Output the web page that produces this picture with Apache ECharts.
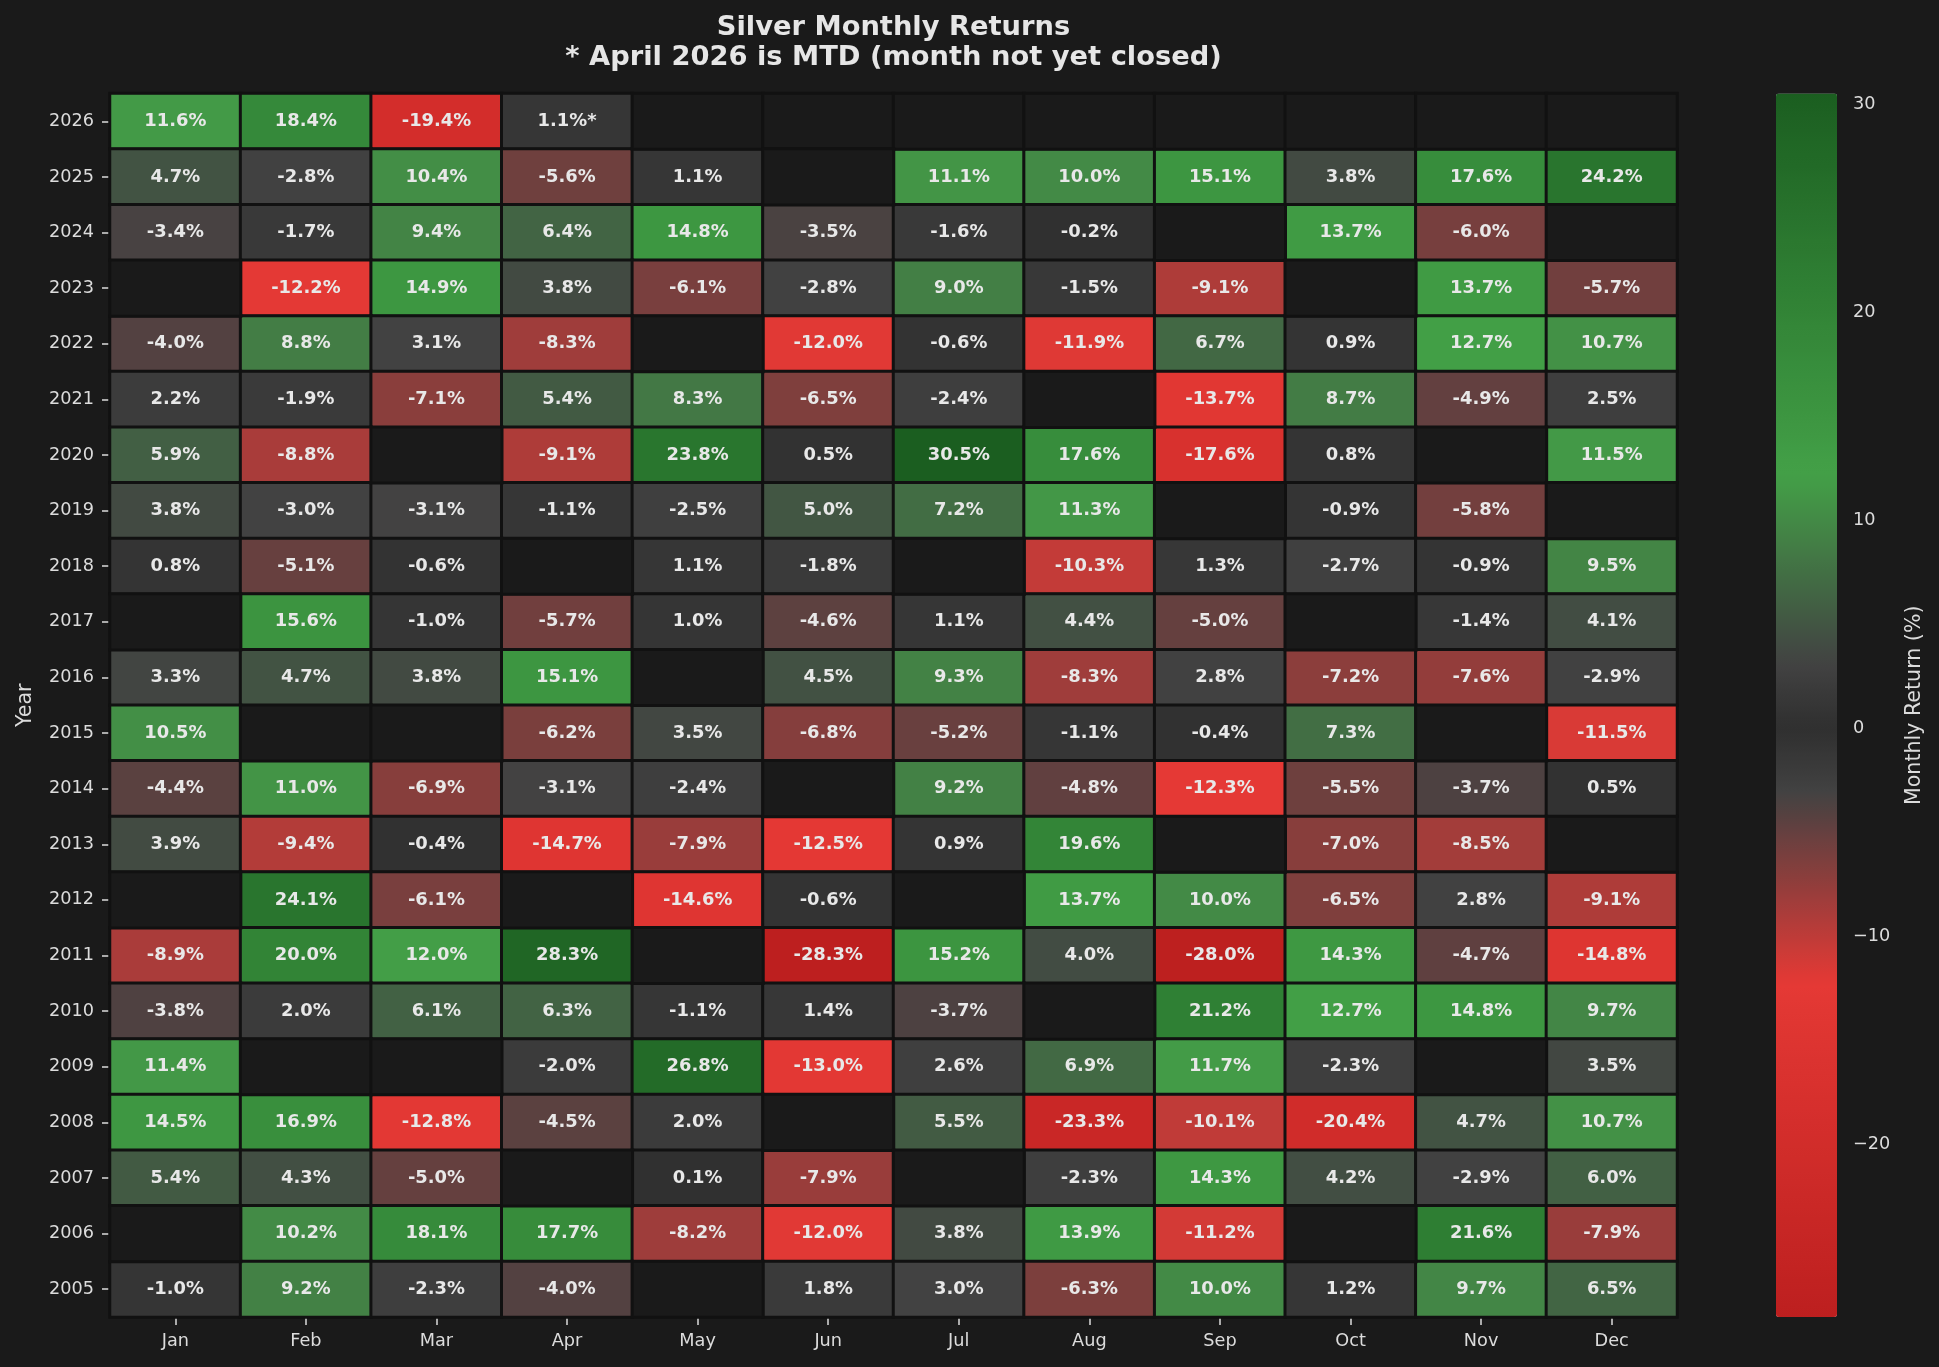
<!DOCTYPE html>
<html><head><meta charset="utf-8">
<script src="https://cdn.jsdelivr.net/npm/echarts@6/dist/echarts.min.js"></script>
<style>html,body{margin:0;padding:0;background:#1a1a1a;}#c{width:1939px;height:1367px;}</style>
</head><body><div id="c"></div>
<script>
// ---------- data ----------
const months = ['Jan','Feb','Mar','Apr','May','Jun','Jul','Aug','Sep','Oct','Nov','Dec'];
const years = ['2026','2025','2024','2023','2022','2021','2020','2019','2018','2017','2016',
               '2015','2014','2013','2012','2011','2010','2009','2008','2007','2006','2005'];
const r2026 = [11.6, 18.4, -19.4, 1.1, null, null, null, null, null, null, null, null];
const r2025 = [4.7, -2.8, 10.4, -5.6, 1.1, null, 11.1, 10.0, 15.1, 3.8, 17.6, 24.2];
const r2024 = [-3.4, -1.7, 9.4, 6.4, 14.8, -3.5, -1.6, -0.2, null, 13.7, -6.0, null];
const r2023 = [null, -12.2, 14.9, 3.8, -6.1, -2.8, 9.0, -1.5, -9.1, null, 13.7, -5.7];
const r2022 = [-4.0, 8.8, 3.1, -8.3, null, -12.0, -0.6, -11.9, 6.7, 0.9, 12.7, 10.7];
const r2021 = [2.2, -1.9, -7.1, 5.4, 8.3, -6.5, -2.4, null, -13.7, 8.7, -4.9, 2.5];
const r2020 = [5.9, -8.8, null, -9.1, 23.8, 0.5, 30.5, 17.6, -17.6, 0.8, null, 11.5];
const r2019 = [3.8, -3.0, -3.1, -1.1, -2.5, 5.0, 7.2, 11.3, null, -0.9, -5.8, null];
const r2018 = [0.8, -5.1, -0.6, null, 1.1, -1.8, null, -10.3, 1.3, -2.7, -0.9, 9.5];
const r2017 = [null, 15.6, -1.0, -5.7, 1.0, -4.6, 1.1, 4.4, -5.0, null, -1.4, 4.1];
const r2016 = [3.3, 4.7, 3.8, 15.1, null, 4.5, 9.3, -8.3, 2.8, -7.2, -7.6, -2.9];
const r2015 = [10.5, null, null, -6.2, 3.5, -6.8, -5.2, -1.1, -0.4, 7.3, null, -11.5];
const r2014 = [-4.4, 11.0, -6.9, -3.1, -2.4, null, 9.2, -4.8, -12.3, -5.5, -3.7, 0.5];
const r2013 = [3.9, -9.4, -0.4, -14.7, -7.9, -12.5, 0.9, 19.6, null, -7.0, -8.5, null];
const r2012 = [null, 24.1, -6.1, null, -14.6, -0.6, null, 13.7, 10.0, -6.5, 2.8, -9.1];
const r2011 = [-8.9, 20.0, 12.0, 28.3, null, -28.3, 15.2, 4.0, -28.0, 14.3, -4.7, -14.8];
const r2010 = [-3.8, 2.0, 6.1, 6.3, -1.1, 1.4, -3.7, null, 21.2, 12.7, 14.8, 9.7];
const r2009 = [11.4, null, null, -2.0, 26.8, -13.0, 2.6, 6.9, 11.7, -2.3, null, 3.5];
const r2008 = [14.5, 16.9, -12.8, -4.5, 2.0, null, 5.5, -23.3, -10.1, -20.4, 4.7, 10.7];
const r2007 = [5.4, 4.3, -5.0, null, 0.1, -7.9, null, -2.3, 14.3, 4.2, -2.9, 6.0];
const r2006 = [null, 10.2, 18.1, 17.7, -8.2, -12.0, 3.8, 13.9, -11.2, null, 21.6, -7.9];
const r2005 = [-1.0, 9.2, -2.3, -4.0, null, 1.8, 3.0, -6.3, 10.0, 1.2, 9.7, 6.5];
const cbTicks = [-20, -10, 0, 10, 20, 30];
const mtdYear = '2026';
const mtdMonth = 'Apr';

const rows = [r2026, r2025, r2024, r2023, r2022, r2021, r2020, r2019, r2018, r2017, r2016,
              r2015, r2014, r2013, r2012, r2011, r2010, r2009, r2008, r2007, r2006, r2005];

// ---------- build ----------
const cells = [], blanks = [];
rows.forEach((row, yi) => row.forEach((v, xi) => {
  if (v === null) blanks.push([xi, yi, 0]); else cells.push([xi, yi, v]);
}));
const vals = cells.map(c => c[2]);
const vMin = Math.min(...vals), vMax = Math.max(...vals);
const maxAbs = Math.max(Math.abs(vMin), Math.abs(vMax));

// colour map stops (fraction of max |value|)
const stops = [[-1,'#b71c1c'],[-0.4,'#e53935'],[-0.1,'#424242'],[0,'#2f2f2f'],[0.1,'#424242'],[0.4,'#43a047'],[1,'#1b5e20']];
function hex2rgb(h){return [parseInt(h.slice(1,3),16),parseInt(h.slice(3,5),16),parseInt(h.slice(5,7),16)];}
function colorAt(v){
  const f = v / maxAbs;
  for (let i = 0; i < stops.length - 1; i++) {
    const [a, ca] = stops[i], [b, cb] = stops[i+1];
    if (f >= a && f <= b) {
      const t = (f - a) / (b - a), A = hex2rgb(ca), B = hex2rgb(cb);
      return 'rgb(' + A.map((x, k) => Math.round(x + (B[k] - x) * t)).join(',') + ')';
    }
  }
  return f < 0 ? stops[0][1] : stops[stops.length-1][1];
}
const N = 240, palette = [];
for (let i = 0; i <= N; i++) palette.push(colorAt(vMin + (vMax - vMin) * i / N));

const FONT = 'DejaVu Sans';
const TXT = '#dcdcdc';
const gridL = 110, gridT = 93.5, gridW = 1567, gridH = 1223.5;

const chart = echarts.init(document.getElementById('c'), null, {renderer: 'canvas'});
chart.setOption({
  backgroundColor: '#1a1a1a',
  animation: false,
  textStyle: {fontFamily: FONT},
  title: {
    text: 'Silver Monthly Returns\n* April 2026 is MTD (month not yet closed)',
    left: gridL + gridW / 2, top: 13, padding: 0, textAlign: 'center',
    textStyle: {color: '#e6e6e6', fontSize: 27.3, fontWeight: 'bold', lineHeight: 30, fontFamily: FONT}
  },
  grid: [
    {left: gridL, top: gridT, width: gridW, height: gridH},
    {left: 1776, top: gridT, width: 61, height: gridH}
  ],
  xAxis: [
    {type: 'category', data: months, gridIndex: 0, position: 'bottom',
     axisLine: {show: false}, splitLine: {show: false},
     axisTick: {show: true, alignWithLabel: true, length: 8, lineStyle: {color: TXT, width: 1.5}},
     axisLabel: {color: TXT, fontSize: 17.7, margin: 15, fontFamily: FONT}},
    {type: 'value', gridIndex: 1, show: false}
  ],
  yAxis: [
    {type: 'category', data: years, gridIndex: 0, inverse: true,
     name: 'Year', nameLocation: 'middle', nameGap: 74,
     nameTextStyle: {color: TXT, fontSize: 20.6, fontFamily: FONT},
     axisLine: {show: false}, splitLine: {show: false},
     axisTick: {show: true, alignWithLabel: true, length: 8, lineStyle: {color: TXT, width: 1.5}},
     axisLabel: {color: TXT, fontSize: 17.7, margin: 16, fontFamily: FONT}},
    {type: 'value', gridIndex: 1, min: vMin, max: vMax, position: 'right',
     name: 'Monthly Return (%)', nameLocation: 'middle', nameGap: 67, nameRotate: 90,
     nameTextStyle: {color: TXT, fontSize: 20.6, fontFamily: FONT},
     axisLine: {show: false}, splitLine: {show: false},
     axisTick: {show: true, length: 7, customValues: cbTicks, lineStyle: {color: TXT, width: 1.5}},
     axisLabel: {color: TXT, fontSize: 17.7, margin: 16, customValues: cbTicks, fontFamily: FONT,
       formatter: v => (v < 0 ? '\u2212' + Math.abs(v) : String(v))}}
  ],
  visualMap: {
    type: 'continuous', seriesIndex: 0, min: vMin, max: vMax,
    orient: 'vertical', left: 1776, top: gridT, itemWidth: 61, itemHeight: gridH,
    padding: 0, calculable: false, realtime: false, text: null, showLabel: false,
    hoverLink: false,
    inRange: {color: palette}
  },
  series: [
    {type: 'heatmap', xAxisIndex: 0, yAxisIndex: 0, data: cells,
     itemStyle: {borderColor: '#111111', borderWidth: 3},
     emphasis: {disabled: true},
     label: {show: true, color: '#e8e8e8', fontSize: 17.9, fontWeight: 'bold', fontFamily: FONT,
       formatter: p => {
         const s = p.value[2].toFixed(1) + '%';
         return (years[p.value[1]] === mtdYear && months[p.value[0]] === mtdMonth) ? s + '*' : s;
       }}},
    {type: 'heatmap', xAxisIndex: 0, yAxisIndex: 0, data: blanks,
     itemStyle: {color: '#1a1a1a', borderColor: '#111111', borderWidth: 3},
     emphasis: {disabled: true}, label: {show: false}, silent: true}
  ]
});
</script></body></html>
